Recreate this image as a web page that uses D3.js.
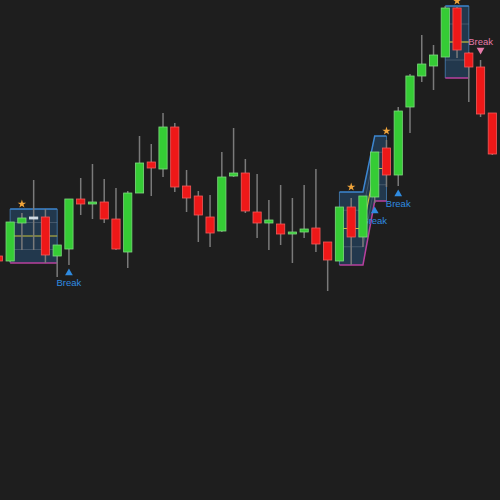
<!DOCTYPE html>
<html>
<head>
<meta charset="utf-8">
<script src="https://cdn.jsdelivr.net/npm/d3@7"></script>
<style>
  html, body { margin: 0; padding: 0; background: #1e1e1e; }
  svg { display: block; }
</style>
</head>
<body>
<svg id="chart"></svg>
<script>
'use strict';
// candle values
const OPENS  = [114.4, 113.9, 117.7, 118.3, 118.3, 114.4, 115.1, 120.1, 119.6, 119.8, 118.1, 114.8, 120.7, 123.8, 123.1, 127.3, 121.4, 120.4, 118.3, 116.9, 122.4, 122.7, 118.8, 117.7, 117.6, 116.6, 116.8, 117.2, 115.8, 113.9, 119.3, 116.3, 120.3, 125.2, 122.5, 129.3, 132.4, 133.4, 134.3, 139.2, 134.7, 133.3, 128.7];
const HIGHS  = [114.4, 117.8, 118.7, 122.0, 119.1, 115.5, 120.1, 122.2, 123.6, 122.1, 121.2, 120.9, 126.4, 125.6, 128.7, 127.7, 123.0, 120.9, 120.5, 124.8, 127.2, 124.1, 122.6, 120.0, 121.5, 120.2, 121.5, 123.1, 115.8, 119.3, 120.2, 120.4, 124.8, 126.0, 129.3, 132.6, 136.5, 135.5, 139.4, 139.3, 134.8, 134.0, 128.7];
const LOWS   = [113.8, 113.8, 115.0, 115.0, 113.7, 112.3, 113.5, 118.5, 118.1, 117.7, 115.0, 113.2, 120.7, 120.4, 122.3, 120.8, 118.8, 115.8, 115.3, 116.8, 122.3, 118.7, 116.2, 115.0, 115.5, 113.7, 116.2, 114.8, 110.9, 113.9, 113.5, 115.3, 119.7, 121.3, 121.4, 126.7, 131.8, 131.0, 134.3, 134.2, 129.8, 128.3, 124.5];
const CLOSES = [113.9, 117.8, 118.2, 118.3, 114.5, 115.5, 120.1, 119.6, 119.8, 118.1, 115.1, 120.7, 123.7, 123.2, 127.3, 121.3, 120.2, 118.5, 116.7, 122.3, 122.7, 118.9, 117.7, 118.0, 116.6, 116.8, 117.1, 115.6, 114.0, 119.3, 116.3, 120.4, 124.8, 122.5, 128.9, 132.4, 133.6, 134.5, 139.2, 135.0, 133.3, 128.6, 124.6];

// consolidation zones (candle index from/to, upper and lower bound)
const ZONE_FROM = [1, 29, 32, 38];
const ZONE_TO   = [5, 31, 33, 40];
const ZONE_HIGH = [119.1, 120.8, 126.4, 139.4];
const ZONE_LOW  = [113.7, 113.5, 119.9, 132.2];
const ZONE_JOIN = [false, false, true, false]; // joined to the zone before it
const STAR_AT   = [2, 30, 33, 39];

// break markers
const BREAK_AT   = [6, 32, 34, 41];
const BREAK_SIDE = ['up', 'up', 'up', 'down'];

const W = 500, H = 500;
const BG = '#1e1e1e';

const candles = OPENS.map((o, i) => ({
  i, open: o, high: HIGHS[i], low: LOWS[i], close: CLOSES[i],
}));

const svg = d3.select('#chart').attr('width', W).attr('height', H);
svg.append('rect').attr('width', W).attr('height', H).attr('fill', BG);

const x = d3.scaleBand()
  .domain(d3.range(candles.length))
  .range([-7.5, 498.2])
  .paddingInner(0.3)
  .paddingOuter(0.15);
const cx = (i) => x(i) + x.bandwidth() / 2;

const y = d3.scaleLinear().domain([90, 140]).range([H, 0]);

// group zones that are joined into one shape
let groups = [];
ZONE_FROM.forEach((from, k) => {
  let pts = [
    { i: from, hi: ZONE_HIGH[k], lo: ZONE_LOW[k] },
    { i: ZONE_TO[k], hi: ZONE_HIGH[k], lo: ZONE_LOW[k] },
  ];
  if (ZONE_JOIN[k] && groups.length) groups[groups.length - 1].push(...pts);
  else groups.push(pts);
});

const zoneG = svg.append('g');
const area = d3.area()
  .x((d) => cx(d.i))
  .y0((d) => y(d.lo))
  .y1((d) => y(d.hi));
const lineAt = (f) => d3.line().x((d) => cx(d.i)).y((d) => y(f(d)));

groups.forEach((pts) => {
  zoneG.append('path')
    .attr('d', area(pts))
    .attr('fill', 'rgba(42,112,178,0.32)');

  // side edges
  [pts[0], pts[pts.length - 1]].forEach((p) => {
    zoneG.append('line')
      .attr('x1', cx(p.i)).attr('x2', cx(p.i))
      .attr('y1', y(p.hi)).attr('y2', y(p.lo))
      .attr('stroke', '#3f6f9c').attr('stroke-width', 1);
  });

  // quarter lines
  [0.25, 0.75].forEach((t) => {
    zoneG.append('path')
      .attr('d', lineAt((d) => d.hi - (d.hi - d.lo) * t)(pts))
      .attr('fill', 'none')
      .attr('stroke', 'rgba(150,160,175,0.3)')
      .attr('stroke-width', 1);
  });

  zoneG.append('path')
    .attr('d', lineAt((d) => (d.hi + d.lo) / 2)(pts))
    .attr('fill', 'none')
    .attr('stroke', '#c9c23c')
    .attr('stroke-width', 1.2);

  zoneG.append('path')
    .attr('d', lineAt((d) => d.hi)(pts))
    .attr('fill', 'none')
    .attr('stroke', '#3d86d0')
    .attr('stroke-width', 1.5);

  zoneG.append('path')
    .attr('d', lineAt((d) => d.lo)(pts))
    .attr('fill', 'none')
    .attr('stroke', '#b8409e')
    .attr('stroke-width', 1.5);
});

// break markers (under the candles)
const breakG = svg.append('g');
BREAK_AT.forEach((i, k) => {
  let c = candles[i];
  let up = BREAK_SIDE[k] === 'up';
  let col = up ? '#2f8be0' : '#e57aa8';
  let ty = up ? y(c.low) + 8 : y(c.high) - 10;
  let txtY = up ? y(c.low) + 18 : y(c.high) - 18;
  breakG.append('path')
    .attr('d', d3.symbol(d3.symbolTriangle, 26)())
    .attr('transform', `translate(${cx(i)},${ty}) rotate(${up ? 0 : 180})`)
    .attr('fill', col);
  breakG.append('text')
    .attr('x', cx(i))
    .attr('y', txtY)
    .attr('dy', '0.35em')
    .attr('text-anchor', 'middle')
    .attr('font-family', 'Liberation Sans, Arial, sans-serif')
    .attr('font-size', 9.5)
    .attr('fill', col)
    .text('Break');
});

// candles
const candleG = svg.append('g');
candleG.selectAll('line')
  .data(candles)
  .enter()
  .append('line')
  .attr('x1', (d) => cx(d.i)).attr('x2', (d) => cx(d.i))
  .attr('y1', (d) => y(d.high)).attr('y2', (d) => y(d.low))
  .attr('stroke', '#7a7a7a')
  .attr('stroke-width', 1.5);

const bodyFill = (d) => d.close > d.open ? '#35cc35' : d.close < d.open ? '#ee1818' : '#c8d4de';
const bodyStroke = (d) => d.close > d.open ? '#7fd97f' : d.close < d.open ? '#f25a5a' : '#dde6ee';

candleG.selectAll('rect')
  .data(candles)
  .enter()
  .append('rect')
  .attr('x', (d) => x(d.i))
  .attr('width', x.bandwidth())
  .attr('y', (d) => y(Math.max(d.open, d.close)))
  .attr('height', (d) => Math.max(2, Math.abs(y(d.open) - y(d.close))))
  .attr('fill', bodyFill)
  .attr('stroke', bodyStroke)
  .attr('stroke-width', 0.8);

// stars over the zones
STAR_AT.forEach((i, k) => {
  svg.append('path')
    .attr('d', d3.symbol(d3.symbolStar, 22)())
    .attr('transform', `translate(${cx(i)},${y(ZONE_HIGH[k]) - 5})`)
    .attr('fill', '#f0a43a');
});
</script>
</body>
</html>
